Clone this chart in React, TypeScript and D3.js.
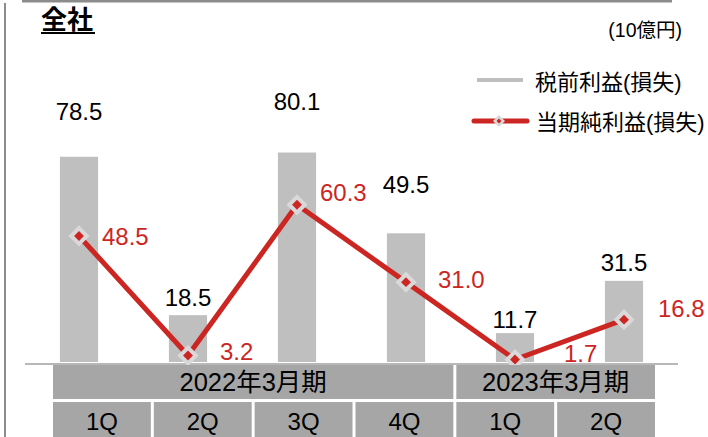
import React from "react";
import * as d3 from "d3";

const categories = ["2022-1Q", "2022-2Q", "2022-3Q", "2022-4Q", "2023-1Q", "2023-2Q"];
const quarterLabels = ["1Q", "2Q", "3Q", "4Q", "1Q", "2Q"];
const yearGroups = ["2022年3月期", "2023年3月期"];
const yearSpans = [4, 2];
const pretaxProfit = [78.5, 18.5, 80.1, 49.5, 11.7, 31.5];
const netProfit = [48.5, 3.2, 60.3, 31.0, 1.7, 16.8];
const barLabelGap = [37, 9, 43, 40, 5, 10];
const lineLabelDx = [23, 32, 23, 32, 49, 34];
const lineLabelDy = [9, 4.5, -4, 6, 2.5, -2.5];

const W = 708;
const H = 437;
const FONT = "'Liberation Sans', Arial, 'Noto Sans CJK JP', sans-serif";
const RED = "#cc2623";
const BAR = "#bfbfbf";
const CELL = "#a6a6a6";

export default function App() {
  const x = d3.scaleBand<string>().domain(categories).range([24.5, 678.5]).paddingInner(0.65).paddingOuter(0.325);
  const y = d3.scaleLinear().domain([0, 100]).range([364, 100]);
  const bw = x.bandwidth();
  const cx = (i: number) => (x(categories[i]) as number) + bw / 2;

  const line = d3.line<number>().x((_, i) => cx(i)).y((d) => y(d));

  const tx = d3.scaleBand<string>().domain(categories).range([53, 658]).paddingInner(0);
  const colW = tx.bandwidth();
  const gap = 3;

  let acc = 0;
  const groups = yearGroups.map((g, gi) => {
    const start = acc;
    acc += yearSpans[gi];
    return { label: g, x0: tx(categories[start]) as number, x1: (tx(categories[acc - 1]) as number) + colW - gap };
  });

  const diamond = (px: number, py: number, key: string) => (
    <g key={key} transform={`translate(${px},${py}) rotate(45)`}>
      <rect x={-5.5} y={-5.5} width={11} height={11} fill={RED} stroke="#d9d9d9" strokeWidth={4} />
    </g>
  );

  return (
    <svg width={W} height={H} style={{ position: "absolute", left: 0, top: 0, fontFamily: FONT }}>
      <rect width={W} height={H} fill="#fff" />
      <line x1={5} x2={5} y1={3} y2={H} stroke="#8c8c8c" strokeWidth={2} />
      <line x1={22} x2={672} y1={1} y2={1} stroke="#8c8c8c" strokeWidth={3} />

      <text x={41} y={29} fontSize={26} fontWeight="bold" fill="#000">全社</text>
      <line x1={41} x2={95} y1={33} y2={33} stroke="#000" strokeWidth={2} />
      <text x={682} y={37} fontSize={19.5} textAnchor="end" fill="#000">(10億円)</text>

      <line x1={477} x2={523} y1={80} y2={80} stroke={BAR} strokeWidth={4} />
      <text x={535} y={90} fontSize={22} fill="#000">税前利益(損失)</text>
      <line x1={474} x2={527} y1={121} y2={121} stroke={RED} strokeWidth={5} strokeLinecap="round" />
      <g transform={`translate(499,121) rotate(45)`}>
        <rect x={-3} y={-3} width={6} height={6} fill={RED} stroke="#d9d9d9" strokeWidth={2.5} />
      </g>
      <text x={536} y={130} fontSize={22} fill="#000">当期純利益(損失)</text>

      <line x1={25} x2={678} y1={364} y2={364} stroke="#a0a0a0" strokeWidth={1.5} />

      {pretaxProfit.map((v, i) => (
        <rect key={"b" + i} x={x(categories[i])} y={y(v)} width={bw} height={y(0) - y(v) - 2} fill={BAR} />
      ))}
      {pretaxProfit.map((v, i) => (
        <text key={"bl" + i} x={cx(i)} y={y(v) - barLabelGap[i]} fontSize={24} textAnchor="middle" fill="#000">
          {v.toFixed(1)}
        </text>
      ))}

      <path d={line(netProfit) || ""} fill="none" stroke={RED} strokeWidth={5} strokeLinejoin="miter" />
      {netProfit.map((v, i) => diamond(cx(i), y(v), "m" + i))}
      {netProfit.map((v, i) => (
        <text key={"ll" + i} x={cx(i) + lineLabelDx[i]} y={y(v) + lineLabelDy[i]} fontSize={24} fill={RED}>
          {v.toFixed(1)}
        </text>
      ))}

      {groups.map((g, i) => (
        <g key={"g" + i}>
          <rect x={g.x0} y={365} width={g.x1 - g.x0} height={34} fill={CELL} />
          <text x={(g.x0 + g.x1) / 2} y={391} fontSize={25.5} textAnchor="middle" fill="#000">{g.label}</text>
        </g>
      ))}
      {quarterLabels.map((q, i) => {
        const x0 = tx(categories[i]) as number;
        return (
          <g key={"q" + i}>
            <rect x={x0} y={402} width={colW - gap} height={36} fill={CELL} />
            <text x={x0 + (colW - gap) / 2} y={430} fontSize={24} textAnchor="middle" fill="#000">{q}</text>
          </g>
        );
      })}
    </svg>
  );
}
